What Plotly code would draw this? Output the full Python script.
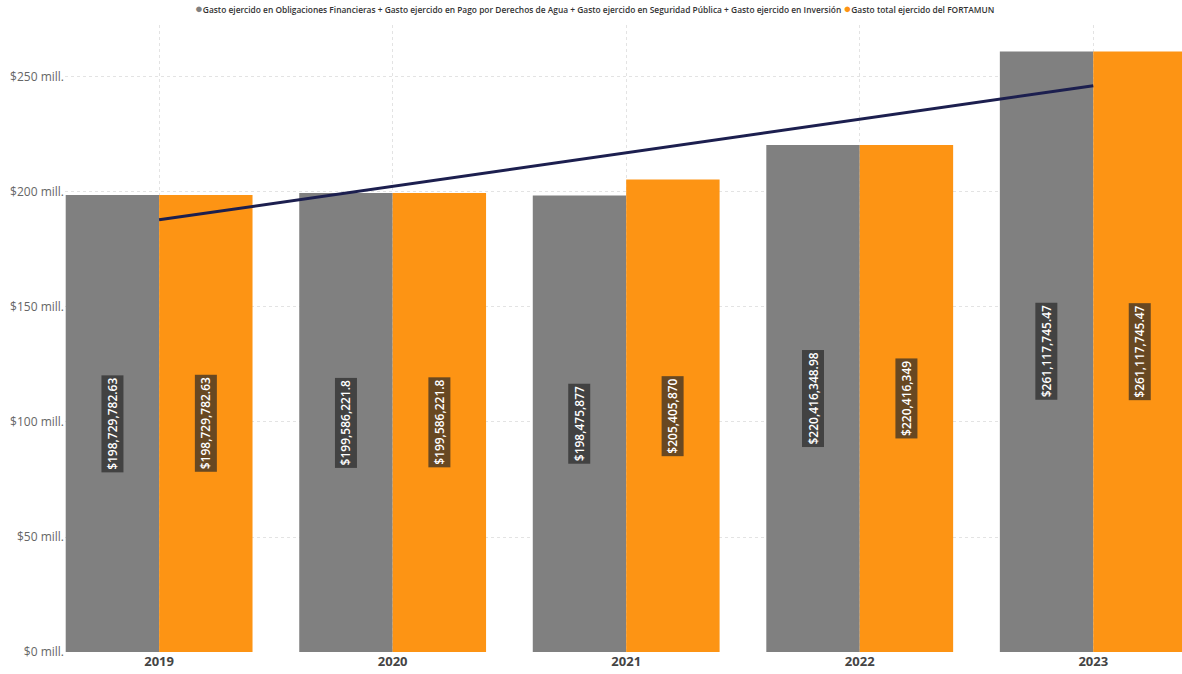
import plotly.graph_objects as go

years = ["2019", "2020", "2021", "2022", "2023"]
gasto_componentes = [198729782.63, 199586221.8, 198475877, 220416348.98, 261117745.47]
gasto_total = [198729782.63, 199586221.8, 205405870, 220416349, 261117745.47]
labels_componentes = ["$198,729,782.63", "$199,586,221.8", "$198,475,877", "$220,416,348.98", "$261,117,745.47"]
labels_total = ["$198,729,782.63", "$199,586,221.8", "$205,405,870", "$220,416,349", "$261,117,745.47"]
trend_years = ["2019", "2023"]
trend_values = [187.9e6, 246.2e6]
ytick_vals = [0, 50e6, 100e6, 150e6, 200e6, 250e6]
ytick_text = ["$0 mill.", "$50 mill.", "$100 mill.", "$150 mill.", "$200 mill.", "$250 mill."]

name_a = ("Gasto ejercido en Obligaciones Financieras + Gasto ejercido en Pago por Derechos de Agua"
          " + Gasto ejercido en Seguridad Pública + Gasto ejercido en Inversión")
name_b = "Gasto total ejercido del FORTAMUN"

GRAY = "#808080"
ORANGE = "#FD9414"
FONT = "Open Sans"

fig = go.Figure()
fig.add_trace(go.Bar(x=years, y=gasto_componentes, marker=dict(color=GRAY, line=dict(width=0)),
                     offsetgroup="a", name=name_a, showlegend=False, hoverinfo="skip"))
fig.add_trace(go.Bar(x=years, y=gasto_total, marker=dict(color=ORANGE, line=dict(width=0)),
                     offsetgroup="b", name=name_b, showlegend=False, hoverinfo="skip"))
fig.add_trace(go.Scatter(x=trend_years, y=trend_values, mode="lines",
                         line=dict(color="#1C1F4F", width=3), showlegend=False, hoverinfo="skip"))

annotations = []
for i in range(len(years)):
    for off, val, txt in ((-0.2, gasto_componentes[i], labels_componentes[i]),
                          (0.2, gasto_total[i], labels_total[i])):
        annotations.append(dict(
            x=i + off, y=val / 2, xref="x", yref="y", text=txt, showarrow=False,
            textangle=-90, font=dict(family=FONT, size=12, color="white", weight=600),
            bgcolor="rgba(40,40,40,0.7)", borderpad=2))

# legend row (circle markers + series names)
legend_text = (f"<span style='color:{GRAY};font-size:13px'>●</span>{name_a} "
               f"<span style='color:{ORANGE};font-size:13px'>●</span>{name_b}")
annotations.append(dict(
    x=0.4736, y=1.0271, xref="paper", yref="paper", xanchor="center", yanchor="middle",
    text=legend_text, showarrow=False,
    font=dict(family=FONT, size=8.4, color="#333333", weight=600)))

fig.update_layout(
    width=1182, height=674,
    margin=dict(l=65, r=0, t=25, b=22, autoexpand=False),
    paper_bgcolor="white", plot_bgcolor="white",
    barmode="group", bargap=0.2, bargroupgap=0,
    font=dict(family=FONT),
    showlegend=False,
    annotations=annotations,
)
fig.update_xaxes(type="category", range=[-0.403, 4.38],
                 showgrid=True, gridcolor="#E3E3E3", griddash="dot", gridwidth=1,
                 tickfont=dict(family=FONT, size=13, color="#444444", weight="bold"),
                 showline=False, zeroline=False, ticks="", automargin=False)
fig.update_yaxes(range=[0, 272.6e6], tickvals=ytick_vals, ticktext=ytick_text,
                 showgrid=True, gridcolor="#E3E3E3", griddash="dot", gridwidth=1,
                 tickfont=dict(family=FONT, size=12, color="#666666"),
                 zeroline=False, showline=False, ticks="", automargin=False)

fig.write_html("out.html", config={"displayModeBar": False},
               post_script="document.body.style.margin='0';document.body.style.overflow='hidden';")
